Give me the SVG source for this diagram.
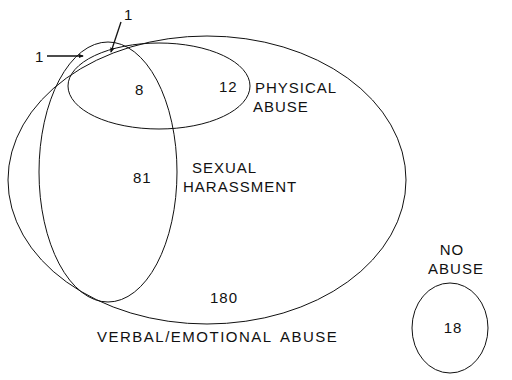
<svg xmlns="http://www.w3.org/2000/svg" width="512" height="380" viewBox="0 0 512 380">
<style>
.set{fill:none;stroke:#111;stroke-width:1}
.t{font-family:"Liberation Sans",Arial,sans-serif;font-size:15px;fill:#111;letter-spacing:1px}
.wide{letter-spacing:1.5px;word-spacing:3px}
.ldr{stroke:#111;stroke-width:1.3;fill:none}
</style>
<defs>
<marker id="ah" viewBox="0 0 6 6" refX="5" refY="3" markerWidth="4" markerHeight="4" orient="auto"><path d="M0,0.5 L6,3 L0,5.5 z" fill="#111"/></marker>
</defs>
<rect width="512" height="380" fill="#fff"/>
<g id="verbal">
<ellipse class="set" cx="207" cy="180" rx="199" ry="144"/>
<text class="t wide" x="97" y="342">VERBAL/EMOTIONAL ABUSE</text>
<text class="t" x="210" y="303">180</text>
</g>
<g id="sexual">
<ellipse class="set" cx="108" cy="172" rx="69" ry="130"/>
<text class="t" x="192" y="173">SEXUAL</text>
<text class="t" x="183" y="192">HARASSMENT</text>
<text class="t" x="133" y="183">81</text>
</g>
<g id="physical">
<ellipse class="set" cx="159" cy="86" rx="91" ry="43"/>
<text class="t" x="255" y="93">PHYSICAL</text>
<text class="t" x="253" y="112">ABUSE</text>
<text class="t" x="219" y="92">12</text>
<text class="t" x="135" y="95">8</text>
</g>
<g id="none">
<ellipse class="set" cx="450" cy="328" rx="38" ry="45"/>
<text class="t" x="452" y="255" text-anchor="middle">NO</text>
<text class="t" x="456" y="274" text-anchor="middle">ABUSE</text>
<text class="t" x="453" y="333" text-anchor="middle">18</text>
</g>
<g id="connectors">
<line class="ldr" x1="47" y1="56" x2="83" y2="56" marker-end="url(#ah)"/>
<line class="ldr" x1="121" y1="22" x2="111" y2="52" marker-end="url(#ah)"/>
<text class="t" x="35" y="62">1</text>
<text class="t" x="124" y="20">1</text>
</g>
</svg>
